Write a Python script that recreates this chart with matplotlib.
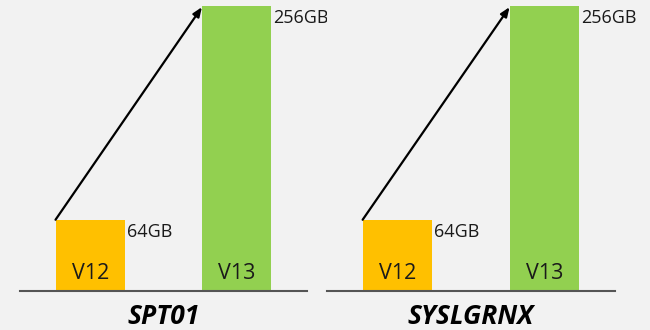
import matplotlib
matplotlib.use("Agg")
import matplotlib.pyplot as plt

plt.rcParams['font.family'] = ['Open Sans', 'DejaVu Sans']

panels = ["SPT01", "SYSLGRNX"]
versions = ["V12", "V13"]
sizes_gb = [64, 256]
size_labels = ["64GB", "256GB"]
colors = ["#FFC000", "#92D050"]
bg = "#F2F2F2"

fig = plt.figure(figsize=(6.5, 3.3), dpi=100, facecolor=bg)

bottom = (330 - 291) / 330
height = 285 / 330
axes_rects = [(20 / 650, bottom, 287 / 650, height),
              (327 / 650, bottom, 288 / 650, height)]
w = 0.475

for rect, title in zip(axes_rects, panels):
    ax = fig.add_axes(rect)
    ax.set_facecolor(bg)
    x = list(range(len(versions)))
    ax.bar(x, sizes_gb, width=w, color=colors, zorder=2)
    ax.set_xlim(-0.48, 1.48)
    ax.set_ylim(0, 256)
    for s in ["top", "right", "left"]:
        ax.spines[s].set_visible(False)
    ax.spines["bottom"].set_color("#555555")
    ax.spines["bottom"].set_linewidth(1.5)
    ax.spines["bottom"].set_zorder(3)
    ax.set_xticks([])
    ax.set_yticks([])
    for xi, v, val, lab in zip(x, versions, sizes_gb, size_labels):
        ax.text(xi, 11, v, ha="center", va="baseline", fontsize=15.5,
                color="#1a1a1a", zorder=4)
        ax.text(xi + w / 2 + 0.012, val - 3, lab, ha="left", va="top",
                fontsize=13, color="#1a1a1a", clip_on=False)
    ax.annotate("", xy=(x[1] - w / 2, sizes_gb[1] - 1),
                xytext=(x[0] - w / 2, sizes_gb[0]),
                arrowprops=dict(arrowstyle="-|>,head_length=0.55,head_width=0.22",
                                color="black", lw=1.6,
                                shrinkA=0, shrinkB=0), zorder=5)
    ax.text(0.5, -0.116, title, transform=ax.transAxes, ha="center",
            va="baseline", fontsize=19, fontweight="bold", style="italic",
            color="black")

fig.savefig("out.png", dpi=100, facecolor=bg)
